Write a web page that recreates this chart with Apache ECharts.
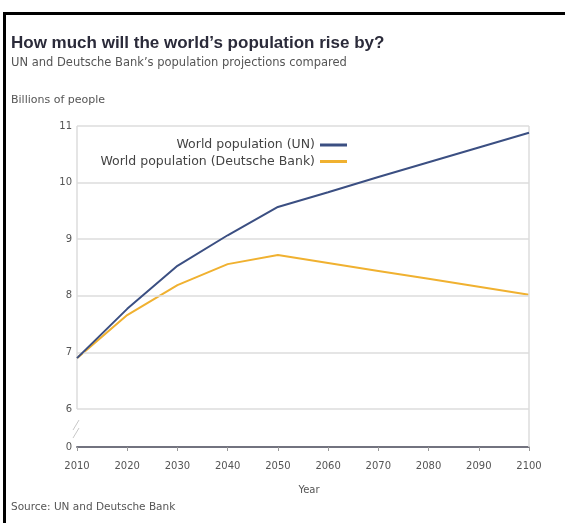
<!DOCTYPE html>
<html><head><meta charset="utf-8">
<script src="https://cdn.jsdelivr.net/npm/echarts@6/dist/echarts.min.js"></script>
<style>
html,body{margin:0;padding:0;background:#fff;}
#frame{position:absolute;left:3px;top:12px;width:570px;height:520px;border-top:3px solid #000;border-left:3px solid #000;}
#c{position:absolute;left:0;top:0;width:565px;height:523px;}
</style></head>
<body><div id="frame"></div><div id="c"></div>
<script>
const years = [2010, 2020, 2030, 2040, 2050, 2060, 2070, 2080, 2090, 2100];
const unPop = [6.9, 7.77, 8.53, 9.07, 9.57, 9.83, 10.1, 10.36, 10.62, 10.88];
const dbPop = [6.9, 7.66, 8.19, 8.56, 8.72, 8.58, 8.44, 8.3, 8.16, 8.02];
const yTickValues = [0, 6, 7, 8, 9, 10, 11];
const xTickLabels = ['2010','2020','2030','2040','2050','2060','2070','2080','2090','2100'];
const seriesNames = ['World population (UN)', 'World population (Deutsche Bank)'];

const BREAK_BASE = 5.33; // where "0" is drawn on the broken axis
const toAxis = v => (v === 0 ? BREAK_BASE : v);

const chart = echarts.init(document.getElementById('c'));
const titleFont = 'Liberation Sans, Arial, sans-serif';
const font = 'DejaVu Sans, sans-serif';
const gridYears = yTickValues.filter(v => v > 0);

chart.setOption({
  animation: false,
  textStyle: {fontFamily: font},
  title: [
    {text: 'How much will the world\u2019s population rise by?', left: 6, top: 29.5,
     textStyle: {fontSize: 17, fontWeight: 'bold', color: '#2b2b3a', fontFamily: titleFont}},
    {text: 'UN and Deutsche Bank\u2019s population projections compared', left: 6, top: 52,
     textStyle: {fontSize: 11.5, fontWeight: 'normal', color: '#555', fontFamily: font}},
    {text: 'Billions of people', left: 6, top: 89.5,
     textStyle: {fontSize: 11, fontWeight: 'normal', color: '#555', fontFamily: font}},
    {text: 'Year', left: 304, top: 480, textAlign: 'center',
     textStyle: {fontSize: 10, fontWeight: 'normal', color: '#555', fontFamily: font}},
    {text: 'Source: UN and Deutsche Bank', left: 6, top: 496.5,
     textStyle: {fontSize: 10.5, fontWeight: 'normal', color: '#555', fontFamily: font}}
  ],
  legend: {
    orient: 'vertical', right: 213, top: 133.5, align: 'right',
    itemWidth: 27, itemHeight: 3, itemGap: 3.5,
    icon: 'rect',
    textStyle: {fontSize: 12.5, color: '#444', fontFamily: font},
    data: seriesNames
  },
  grid: {left: 77, right: 36, top: 126, bottom: 76, containLabel: false},
  xAxis: {
    type: 'value', min: 2010, max: 2100, interval: 10,
    axisLine: {show: true, lineStyle: {color: '#72737f', width: 2}},
    axisTick: {show: true, inside: false, length: 4, lineStyle: {color: '#999'}},
    axisLabel: {color: '#555', fontSize: 10, margin: 14, fontFamily: font,
      formatter: v => xTickLabels[years.indexOf(v)] || ''},
    splitLine: {show: false}
  },
  yAxis: {
    type: 'value', min: BREAK_BASE, max: 11,
    axisLine: {show: false},
    axisTick: {show: false, customValues: yTickValues.map(toAxis)},
    axisLabel: {color: '#555', fontSize: 10, margin: 5, fontFamily: font,
      customValues: yTickValues.map(toAxis),
      formatter: v => (v < 6 ? '0' : String(Math.round(v)))},
    splitLine: {show: false}
  },
  series: [
    {
      name: seriesNames[0], type: 'line', data: years.map((y, i) => [y, unPop[i]]),
      showSymbol: false, symbol: 'none', lineStyle: {color: '#3b4f82', width: 2},
      itemStyle: {color: '#3b4f82'}, z: 5,
      markLine: {
        silent: true, symbol: 'none', label: {show: false},
        lineStyle: {color: '#dcdcdc', width: 1.5, type: 'solid'},
        data: gridYears.map(v => ({yAxis: v})).concat([
          [{coord: [2010, 6]}, {coord: [2010, 11]}],
          [{coord: [2100, BREAK_BASE]}, {coord: [2100, 11]}]
        ])
      }
    },
    {
      name: seriesNames[1], type: 'line', data: years.map((y, i) => [y, dbPop[i]]),
      showSymbol: false, symbol: 'none', lineStyle: {color: '#f0b130', width: 2},
      itemStyle: {color: '#f0b130'}, z: 4
    }
  ]
});

// axis break marks between 0 and 6
const p6 = chart.convertToPixel({gridIndex: 0}, [2010, 6]);
const p0 = chart.convertToPixel({gridIndex: 0}, [2010, BREAK_BASE]);
const mid = (p6[1] + p0[1]) / 2;
chart.setOption({
  graphic: [
    {type: 'line', shape: {x1: p6[0] - 4, y1: mid + 2, x2: p6[0] + 2, y2: mid - 8}},
    {type: 'line', shape: {x1: p6[0] - 4, y1: mid + 10, x2: p6[0] + 2, y2: mid}}
  ].map(g => Object.assign(g, {style: {stroke: '#c8c8c8', lineWidth: 1}}))
});
</script></body></html>
